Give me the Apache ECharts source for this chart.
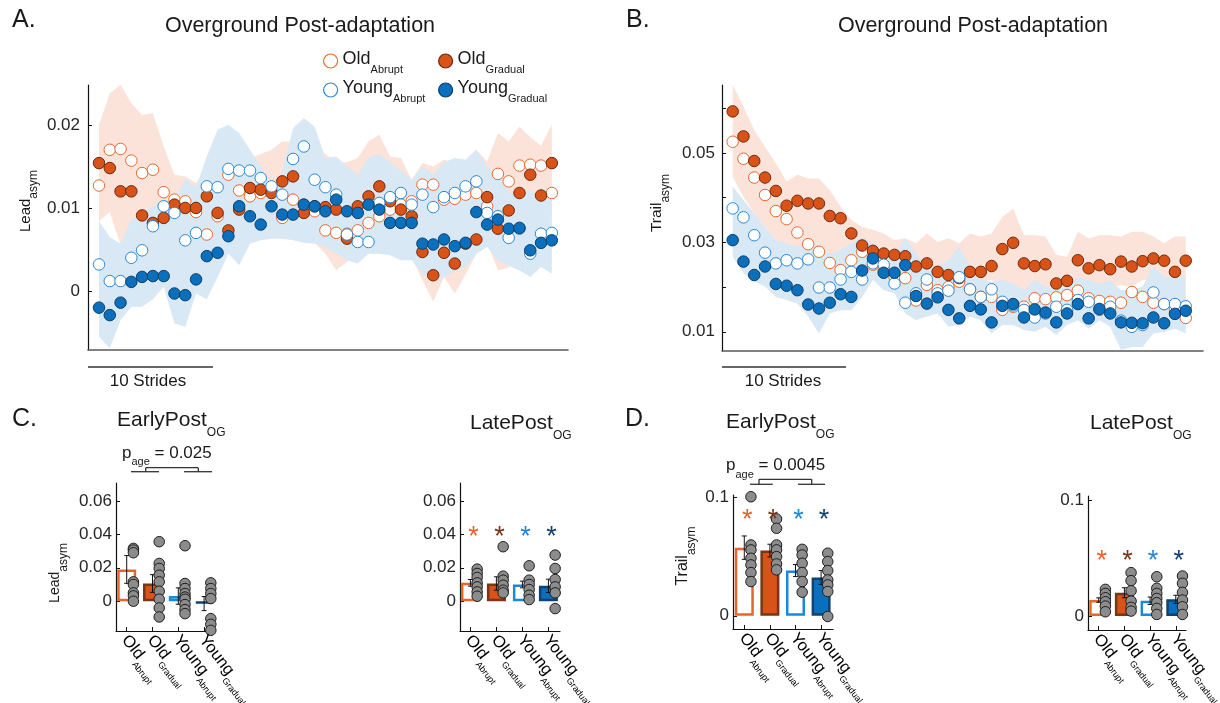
<!DOCTYPE html>
<html>
<head>
<meta charset="utf-8">
<title>Overground Post-adaptation</title>
<script src="https://cdn.jsdelivr.net/npm/echarts@6.0.0/dist/echarts.min.js"></script>
<style>
html, body { margin: 0; padding: 0; background: #fff; }
#main { width: 1220px; height: 703px; }
</style>
</head>
<body>
<div id="main"></div>
<script>
var F = "'Liberation Sans', Arial, Helvetica, sans-serif";
var INK = '#1a1a1a';

// A. lead asymmetry, one value per stride bin
var aOldAbrupt = [.0127,.017,.0171,.0157,.0142,.0146,.0119,.011,.0108,.0095,.0068,.009,.014,.0121,.0114,.0118,.012,.0088,.011,.0104,.0096,.0073,.007,.0069,.0073,.0082,.009,.0098,.0104,.0108,.0128,.0128,.011,.0111,.0116,.0118,.0102,.0141,.0132,.0151,.0152,.0151,.0118];
var aOldGradual = [.0154,.0148,.012,.012,.0091,.0082,.0088,.0104,.01,.01,.0114,.0094,.0073,.0098,.0124,.0122,.0118,.0132,.0138,.0094,.0102,.0101,.0098,.0063,.0102,.0114,.0126,.0108,.0098,.009,.0047,.0019,.0046,.0033,.0057,.0062,.0113,.0075,.0097,.0118,.014,.0115,.0154];
var aYoungAbrupt = [.0032,.0012,.0012,.004,.0049,.0078,.0102,.0094,.0061,.007,.0126,.0125,.0147,.0145,.0145,.0136,.0126,.0116,.0159,.0174,.0134,.0125,.0116,.0068,.0059,.0059,.0106,.0113,.0118,.0104,.0116,.0101,.0113,.0118,.0126,.0132,.0094,.009,.0064,.0075,.0045,.0069,.007];
var aYoungGradual = [-.002,-.0029,-.0014,.0011,.0017,.0018,.0018,-.0003,-.0005,.0014,.0042,.0046,.0066,.0102,.009,.008,.0102,.0092,.0092,.0104,.0102,.0096,.011,.0096,.0094,.0104,.0098,.0082,.0082,.0082,.0057,.0056,.0062,.0054,.0058,.0095,.008,.0086,.0075,.0076,.0049,.0058,.0061];
var aOldLo = [.0084,.0095,.0055,.006,.0062,.0065,.006,.0058,.006,.006,.0062,.0065,.0068,.007,.0068,.007,.0068,.0065,.0065,.0062,.0058,.0045,.0025,.0035,.0055,.006,.0062,.0055,.005,.0041,.0013,-.0013,.0017,-.0003,.002,.0045,.0058,.0025,.0028,.0065,.007,.0085,.0086];
var aOldHi = [.020,.0238,.0248,.0226,.0212,.0214,.0174,.014,.0138,.013,.0145,.015,.0155,.0155,.016,.0165,.017,.018,.018,.0175,.017,.0165,.0155,.0155,.016,.018,.0188,.0162,.016,.0134,.0154,.015,.0158,.0154,.0158,.017,.0156,.019,.018,.0198,.0185,.0175,.02];
var aYoungLo = [-.0055,-.0069,-.0035,-.0019,-.0019,-.001,.0005,-.0039,-.0043,-.0003,-.001,.0017,.0045,.0031,.0057,.0061,.0063,.0063,.0061,.0058,.0057,.0053,.0045,.0037,.0033,.0045,.0045,.0043,.0037,.0037,.0021,.0013,.0017,.0024,.0029,.0045,.0053,.0037,.003,.0025,.0017,.0029,.0021];
var aYoungHi = [.0084,.0065,.0057,.0086,.0094,.0102,.011,.011,.0135,.0125,.0162,.0194,.02,.019,.017,.015,.012,.0145,.0196,.0208,.0198,.016,.0162,.015,.014,.016,.0165,.0155,.0145,.0134,.015,.014,.0155,.016,.0158,.017,.015,.0138,.012,.011,.0122,.011,.011];

// B. trail asymmetry
var bOldAbrupt = [.0525,.0487,.0445,.0406,.037,.0352,.0322,.0296,.0279,.0254,.0238,.026,.0279,.025,.024,.0223,.022,.017,.0205,.0193,.020,.0212,.0195,.0178,.0178,.0149,.0156,.0156,.0175,.0173,.0177,.0182,.0192,.0175,.0169,.0167,.0165,.0189,.0178,.0165,.0162,.0149,.0131];
var bOldGradual = [.0593,.0537,.0482,.0445,.0415,.0382,.0393,.0387,.0387,.0359,.0354,.032,.0293,.0281,.0275,.0272,.0269,.0246,.0253,.0234,.0227,.022,.0234,.0234,.0247,.0285,.0299,.0253,.0247,.0251,.0208,.0214,.026,.0242,.0249,.024,.0257,.0246,.0258,.0264,.0259,.0234,.0259];
var bYoungAbrupt = [.0376,.0356,.0316,.0277,.0253,.026,.0253,.0262,.0199,.0199,.0217,.0234,.0217,.0253,.025,.0208,.0165,.0186,.0217,.0186,.0192,.0222,.0195,.0178,.0195,.0167,.0159,.0149,.0132,.0141,.0156,.0149,.0171,.0167,.0149,.0156,.0125,.0111,.0115,.0188,.0162,.0162,.0157];
var bYoungGradual = [.0305,.0257,.0227,.0246,.0207,.0203,.0193,.0161,.0152,.0165,.0184,.0178,.0237,.0264,.0232,.0232,.0249,.018,.0163,.0177,.0149,.013,.0158,.015,.0121,.0158,.0162,.0132,.015,.0143,.0121,.0141,.0162,.013,.0151,.0141,.0121,.012,.0119,.0132,.0119,.014,.0147];
var bOldLo = [.0447,.0402,.0365,.0335,.0305,.029,.0268,.0246,.0238,.0234,.0234,.0238,.0246,.0238,.0231,.0223,.0216,.0216,.0216,.0204,.0197,.0216,.0208,.0216,.0216,.0201,.0193,.0186,.0178,.0178,.0186,.0186,.019,.0201,.0193,.0201,.0204,.0201,.0216,.0216,.0216,.0216,.0216];
var bOldHi = [.0652,.0604,.0551,.0514,.0477,.0436,.0451,.0443,.0443,.0417,.038,.035,.0335,.0328,.032,.0305,.0309,.0298,.032,.0301,.0309,.0298,.032,.0313,.032,.0357,.0376,.0316,.0316,.0313,.0272,.0268,.0324,.0309,.0316,.0316,.0313,.0324,.0324,.0313,.0298,.0313,.0313];
var bYoungLo = [.0268,.0231,.0212,.0201,.0178,.0171,.0163,.0134,.0096,.0141,.0148,.0148,.0178,.0216,.0193,.0186,.0141,.0126,.0134,.0141,.0111,.0115,.0134,.0126,.0096,.0115,.0115,.0104,.01,.0111,.0093,.0115,.0126,.0107,.0126,.0111,.0059,.0066,.0066,.0096,.01,.0107,.0096];
var bYoungHi = [.0425,.0395,.0365,.0335,.0305,.0298,.029,.0298,.029,.0275,.0283,.0298,.0313,.0298,.0283,.0275,.0309,.0275,.0246,.0246,.026,.029,.0246,.0219,.0212,.0216,.0208,.0193,.0216,.0201,.0197,.0201,.0223,.0216,.0208,.0216,.0193,.0193,.0201,.0246,.0223,.0223,.0223];

// bar panels: groups in this order
var catMain = ['Old', 'Old', 'Young', 'Young'];
var catSub = ['Abrupt', 'Gradual', 'Abrupt', 'Gradual'];

var cEarlyMean = [0.019, 0.0106, 0.0031, -0.0014];
var cEarlyErr = [0.0083, 0.0053, 0.0049, 0.0042];
var cEarlyDots = [
	[0.071, 0.0316, 0.0306, 0.029, 0.0116, 0.01, 0.005, 0.0032, 0.0],
	[0.0356, 0.0226, 0.0196, 0.0156, 0.0116, 0.006, 0.0012, -0.004, -0.0094],
	[0.0332, 0.0106, 0.0076, 0.0046, 0.0025, 0.0012, -0.002, -0.005, -0.0074],
	[0.011, 0.0076, 0.0046, 0.0016, -0.0104, -0.0138, -0.0174]
];
var cLateMean = [0.011, 0.0106, 0.01, 0.0092];
var cLateErr = [0.002, 0.004, 0.002, 0.004];
var cLateDots = [
	[0.0192, 0.0166, 0.0142, 0.011, 0.0086, 0.0056, 0.003],
	[0.0326, 0.015, 0.0126, 0.0096, 0.0066, 0.005],
	[0.0212, 0.0126, 0.01, 0.007, 0.0036, 0.001],
	[0.0276, 0.0196, 0.013, 0.0086, 0.005, -0.0044]
];
var cLateStar = 0.0416;

var dEarlyMean = [0.0577, 0.0552, 0.0383, 0.0324];
var dEarlyErr = [0.0099, 0.0054, 0.0051, 0.0059];
var dEarlyDots = [
	[0.1008, 0.06, 0.0558, 0.0487, 0.0431, 0.0366, 0.029],
	[0.082, 0.0741, 0.06, 0.0558, 0.0501, 0.0439, 0.0389],
	[0.0563, 0.0515, 0.0445, 0.0366, 0.029, 0.02],
	[0.053, 0.0459, 0.0383, 0.0304, 0.0262, 0.0206, -0.0006]
];
var dEarlyStar = 0.0854;
var dLateMean = [0.0138, 0.0201, 0.0132, 0.0144];
var dLateErr = [0.0019, 0.0043, 0.0032, 0.0035];
var dLateDots = [
	[0.023, 0.0195, 0.0158, 0.0124, 0.0086, 0.0037],
	[0.0374, 0.0305, 0.0218, 0.0129, 0.0075, 0.0043],
	[0.0339, 0.0239, 0.0195, 0.0152, 0.0115, 0.0066, 0.0014],
	[0.0345, 0.0282, 0.0204, 0.0138, 0.008, 0.0014]
];
var dLateStar = 0.0517;

var markStyle = {
	'Old Abrupt': { fill: '#ffffff', edge: '#e8692e' },
	'Old Gradual': { fill: '#d95319', edge: '#6b2a0d' },
	'Young Abrupt': { fill: '#ffffff', edge: '#2a88d8' },
	'Young Gradual': { fill: '#0a6fbd', edge: '#0f3e66' }
};
var barFill = ['#ffffff', '#d95319', '#ffffff', '#0a6fbd'];
var barEdge = ['#e8642c', '#7a3417', '#1e88d4', '#12426e'];
var starColor = ['#e8642c', '#7a3417', '#1e88d4', '#12426e'];
var dotShift = 0.26;

function subRich(main, sub, drop, color) {
	var lh = Math.round(main * 1.2);
	return {
		m: { fontSize: main, fontFamily: F, color: color, lineHeight: lh, verticalAlign: 'top' },
		s: { fontSize: sub, fontFamily: F, color: color, lineHeight: sub, verticalAlign: 'top',
			padding: [Math.round(lh / 2 + drop - sub / 2), 0, 0, 0] }
	};
}

var catRich = subRich(16.5, 9, 7, '#222');

function withIndex(arr) {
	return arr.map(function(v, i) { return [i, v]; });
}

// shaded band (mean +- se) drawn as one polygon through the axis scales
function band(k, lo, hi, color) {
	return { type: 'custom', xAxisIndex: k, yAxisIndex: k, z: 1, silent: true, clip: true,
		encode: { x: 0, y: [1, 2] },
		data: lo.map(function(v, i) { return [i, v, hi[i]]; }),
		renderItem: function(params, api) {
			if (params.dataIndex !== 0) return null;
			var pts = [];
			for (var i = 0; i < hi.length; i++) pts.push(api.coord([i, hi[i]]));
			for (var j = lo.length - 1; j >= 0; j--) pts.push(api.coord([j, lo[j]]));
			return { type: 'polygon', shape: { points: pts }, style: { fill: color, stroke: null } };
		} };
}

function dots(k, name, vals) {
	var s = markStyle[name];
	return { type: 'scatter', name: name, xAxisIndex: k, yAxisIndex: k, data: withIndex(vals),
		symbolSize: 11.5, z: 3, silent: true,
		itemStyle: { color: s.fill, borderColor: s.edge, borderWidth: 1, opacity: 1 } };
}

function lineX(k, min, max) {
	return { gridIndex: k, type: 'value', min: min, max: max,
		axisLine: { show: true, onZero: false, lineStyle: { color: '#5a5a5a', width: 1.6 } },
		axisTick: { show: false }, axisLabel: { show: false }, splitLine: { show: false } };
}

// group labels are drawn by a custom series below (the axis would drop overlapping rotated labels)
function catX(k, min, max) {
	return { gridIndex: k, type: 'value', min: min, max: max,
		axisLine: { show: true, onZero: false, lineStyle: { color: '#111', width: 1.2 } },
		axisTick: { show: true, inside: true, length: 4, customValues: [1, 2, 3, 4], lineStyle: { color: '#111' } },
		axisLabel: { show: false },
		splitLine: { show: false } };
}

function valY(k, min, max, ticks, labels, margin) {
	return { gridIndex: k, type: 'value', min: min, max: max,
		axisLine: { show: true, onZero: false, lineStyle: { color: '#111', width: 1.2 } },
		axisTick: { show: true, inside: true, length: 4, customValues: ticks, lineStyle: { color: '#111' } },
		axisLabel: { show: true, customValues: labels, margin: margin, fontSize: 17, fontFamily: F, color: '#262626',
			showMinLabel: true, showMaxLabel: true,
			formatter: function(v) { return '' + v; } },
		splitLine: { show: false } };
}

function errRender(params, api) {
	var x = api.value(0);
	var lo = api.coord([x, api.value(1)]);
	var hi = api.coord([x, api.value(2)]);
	var c = 2.5;
	var st = { stroke: '#111', lineWidth: 1 };
	return { type: 'group', children: [
		{ type: 'line', shape: { x1: lo[0], y1: lo[1], x2: hi[0], y2: hi[1] }, style: st },
		{ type: 'line', shape: { x1: lo[0] - c, y1: lo[1], x2: lo[0] + c, y2: lo[1] }, style: st },
		{ type: 'line', shape: { x1: hi[0] - c, y1: hi[1], x2: hi[0] + c, y2: hi[1] }, style: st }
	] };
}

function starRender(params, api) {
	var p = api.coord([api.value(0), api.value(1)]);
	var size = 27;
	return { type: 'text', x: p[0] + 3, y: p[1] + size * 0.22,
		style: { text: '*', fill: starColor[params.dataIndex], fontSize: size, fontFamily: F,
			align: 'center', verticalAlign: 'middle', textAlign: 'center', textVerticalAlign: 'middle' } };
}

function catRender(params, api) {
	var g = api.value(0);
	var p = api.coord([g, api.value(1)]);
	var bottom = params.coordSys.y + params.coordSys.height;
	var i = Math.round(g) - 1;
	return { type: 'text', x: p[0] - 3, y: bottom + 7, rotation: -52 * Math.PI / 180,
		style: { text: '{m|' + catMain[i] + '}{s|' + catSub[i] + '}', rich: catRich,
			align: 'left', verticalAlign: 'middle', textAlign: 'left', textVerticalAlign: 'middle' } };
}

function barPanel(k, means, errs, groups, star) {
	var out = [];
	out.push({ type: 'bar', xAxisIndex: k, yAxisIndex: k, barWidth: 19, z: 2, silent: true,
		data: means.map(function(m, i) {
			return { value: [i + 1, m], itemStyle: { color: barFill[i], borderColor: barEdge[i], borderWidth: 2.5 } };
		}) });
	var pts = [];
	groups.forEach(function(vals, g) {
		vals.forEach(function(v) { pts.push([g + 1 + dotShift, v]); });
	});
	out.push({ type: 'custom', xAxisIndex: k, yAxisIndex: k, z: 3, silent: true,
		encode: { x: 0, y: [1, 2] }, renderItem: errRender,
		data: means.map(function(m, i) { return [i + 1, m - errs[i], m + errs[i]]; }) });
	out.push({ type: 'scatter', xAxisIndex: k, yAxisIndex: k, z: 4, silent: true, data: pts, symbolSize: 10.5,
		itemStyle: { color: '#8c8c8c', borderColor: '#1e1e1e', borderWidth: 1, opacity: 1 } });
	if (star != null) {
		out.push({ type: 'custom', xAxisIndex: k, yAxisIndex: k, z: 5, silent: true,
			encode: { x: 0, y: 1 }, renderItem: starRender,
			data: [1, 2, 3, 4].map(function(g) { return [g, star]; }) });
	}
	out.push({ type: 'custom', xAxisIndex: k, yAxisIndex: k, z: 5, silent: true, clip: false,
		encode: { x: 0, y: 1 }, renderItem: catRender,
		data: [1, 2, 3, 4].map(function(g) { return [g, 0]; }) });
	return out;
}

function legendBox(left, names) {
	return { left: left, top: 50, orient: 'vertical', padding: 0, itemGap: 4, itemWidth: 14, itemHeight: 14,
		selectedMode: false,
		data: names.map(function(n) {
			return { name: n, icon: 'circle', itemStyle: { color: markStyle[n].fill, borderColor: markStyle[n].edge, borderWidth: 1.2 } };
		}),
		formatter: function(n) {
			var p = n.split(' ');
			return '{m|' + p[0] + '}{s|' + p[1] + '}';
		},
		textStyle: { fontSize: 18, fontFamily: F, rich: subRich(18, 11, 8.5, INK) } };
}

function label(x, y, text, size, rich, rot, align) {
	var el = { type: 'text', x: x, y: y, rotation: rot || 0, silent: true,
		style: { text: text, fill: INK, fontSize: size, fontFamily: F,
			align: align || 'center', verticalAlign: 'middle', textAlign: align || 'center', textVerticalAlign: 'middle' } };
	if (rich) el.style.rich = rich;
	return el;
}

function seg(x1, y1, x2, y2, color, w) {
	return { type: 'line', silent: true, shape: { x1: x1, y1: y1, x2: x2, y2: y2 },
		style: { stroke: color || '#333', lineWidth: w || 1.3 } };
}

var graphics = [
	label(12, 20, 'A.', 25, null, 0, 'left'),
	label(626, 20, 'B.', 25, null, 0, 'left'),
	label(12, 419, 'C.', 25, null, 0, 'left'),
	label(625, 419, 'D.', 25, null, 0, 'left'),
	label(300, 26, 'Overground Post-adaptation', 21.5),
	label(973, 26, 'Overground Post-adaptation', 21.5),
	label(27, 201, '{m|Lead}{s|asym}', 15, subRich(15, 12, 7, INK), Math.PI / 2),
	label(658, 203, '{m|Trail}{s|asym}', 15.5, subRich(15.5, 12, 7, INK), Math.PI / 2),
	label(57, 573, '{m|Lead}{s|asym}', 14, subRich(14, 12, 6, INK), Math.PI / 2),
	label(684, 556, '{m|Trail}{s|asym}', 16, subRich(16, 12, 7, INK), Math.PI / 2),
	seg(88, 367, 213, 367, '#333', 1.3),
	label(148, 381, '10 Strides', 17),
	seg(722, 367, 846, 367, '#333', 1.3),
	label(783, 381, '10 Strides', 17),
	label(117, 422, '{m|EarlyPost}{s|OG}', 21, subRich(21, 12, 10, INK), 0, 'left'),
	label(470, 425.5, '{m|LatePost}{s|OG}', 21, subRich(21, 12, 10, INK), 0, 'left'),
	label(726, 424.5, '{m|EarlyPost}{s|OG}', 21, subRich(21, 12, 10, INK), 0, 'left'),
	label(1090, 425.5, '{m|LatePost}{s|OG}', 21, subRich(21, 12, 10, INK), 0, 'left'),
	label(122, 454.5, '{m|p}{s|age}{m| = 0.025}', 17, subRich(17, 11, 7, INK), 0, 'left'),
	label(726, 467, '{m|p}{s|age}{m| = 0.0045}', 17, subRich(17, 11, 7, INK), 0, 'left'),
	// age-effect brackets
	seg(131, 471.7, 159, 471.7), seg(184, 471.7, 212, 471.7),
	seg(145.7, 471.7, 145.7, 467.7), seg(198.3, 471.7, 198.3, 467.7), seg(145.7, 467.7, 198.3, 467.7),
	seg(750, 484.3, 772.7, 484.3), seg(798, 484.3, 825, 484.3),
	seg(759, 484.3, 759, 479.3), seg(811.7, 484.3, 811.7, 479.3), seg(759, 479.3, 811.7, 479.3)
];

var series = [].concat(
	band(0, aOldLo, aOldHi, '#fbe3d9'),
	band(0, aYoungLo, aYoungHi, '#d8e8f5'),
	dots(0, 'Old Abrupt', aOldAbrupt),
	dots(0, 'Old Gradual', aOldGradual),
	dots(0, 'Young Abrupt', aYoungAbrupt),
	dots(0, 'Young Gradual', aYoungGradual),
	band(1, bOldLo, bOldHi, '#fbe3d9'),
	band(1, bYoungLo, bYoungHi, '#d8e8f5'),
	dots(1, 'Old Abrupt', bOldAbrupt),
	dots(1, 'Old Gradual', bOldGradual),
	dots(1, 'Young Abrupt', bYoungAbrupt),
	dots(1, 'Young Gradual', bYoungGradual),
	barPanel(2, cEarlyMean, cEarlyErr, cEarlyDots, null),
	barPanel(3, cLateMean, cLateErr, cLateDots, cLateStar),
	barPanel(4, dEarlyMean, dEarlyErr, dEarlyDots, dEarlyStar),
	barPanel(5, dLateMean, dLateErr, dLateDots, dLateStar)
);

var option = {
	animation: false,
	backgroundColor: '#ffffff',
	textStyle: { fontFamily: F },
	grid: [
		{ left: 88, top: 85, width: 480, height: 265, outerBoundsMode: 'none' },
		{ left: 722, top: 85, width: 481, height: 266, outerBoundsMode: 'none' },
		{ left: 116, top: 483, width: 97, height: 148, outerBoundsMode: 'none' },
		{ left: 460, top: 483, width: 100, height: 148, outerBoundsMode: 'none' },
		{ left: 733, top: 495, width: 100, height: 134, outerBoundsMode: 'none' },
		{ left: 1088, top: 496, width: 98, height: 134, outerBoundsMode: 'none' }
	],
	xAxis: [
		lineX(0, -1.02, 43.5),
		lineX(1, -0.99, 43.6),
		catX(2, 0.585, 4.345),
		catX(3, 0.6, 4.446),
		catX(4, 0.559, 4.465),
		catX(5, 0.584, 4.397)
	],
	yAxis: [
		valY(0, -0.0071, 0.0248, [0, 0.01, 0.02], [0, 0.01, 0.02], 8),
		valY(1, 0.0057, 0.0652, [0.01, 0.02, 0.03, 0.04, 0.05, 0.06], [0.01, 0.03, 0.05], 7),
		valY(2, -0.0178, 0.0707, [0, 0.02, 0.04, 0.06], [0, 0.02, 0.04, 0.06], 4),
		valY(3, -0.0178, 0.0707, [0, 0.02, 0.04, 0.06], [0, 0.02, 0.04, 0.06], 4),
		valY(4, -0.0112, 0.1023, [0, 0.1], [0, 0.1], 4),
		valY(5, -0.012, 0.1034, [0, 0.1], [0, 0.1], 4)
	],
	legend: [
		legendBox(323, ['Old Abrupt', 'Young Abrupt']),
		legendBox(438, ['Old Gradual', 'Young Gradual'])
	],
	graphic: { elements: graphics },
	series: series
};

var chart = echarts.init(document.getElementById('main'));
chart.setOption(option);
</script>
</body>
</html>
